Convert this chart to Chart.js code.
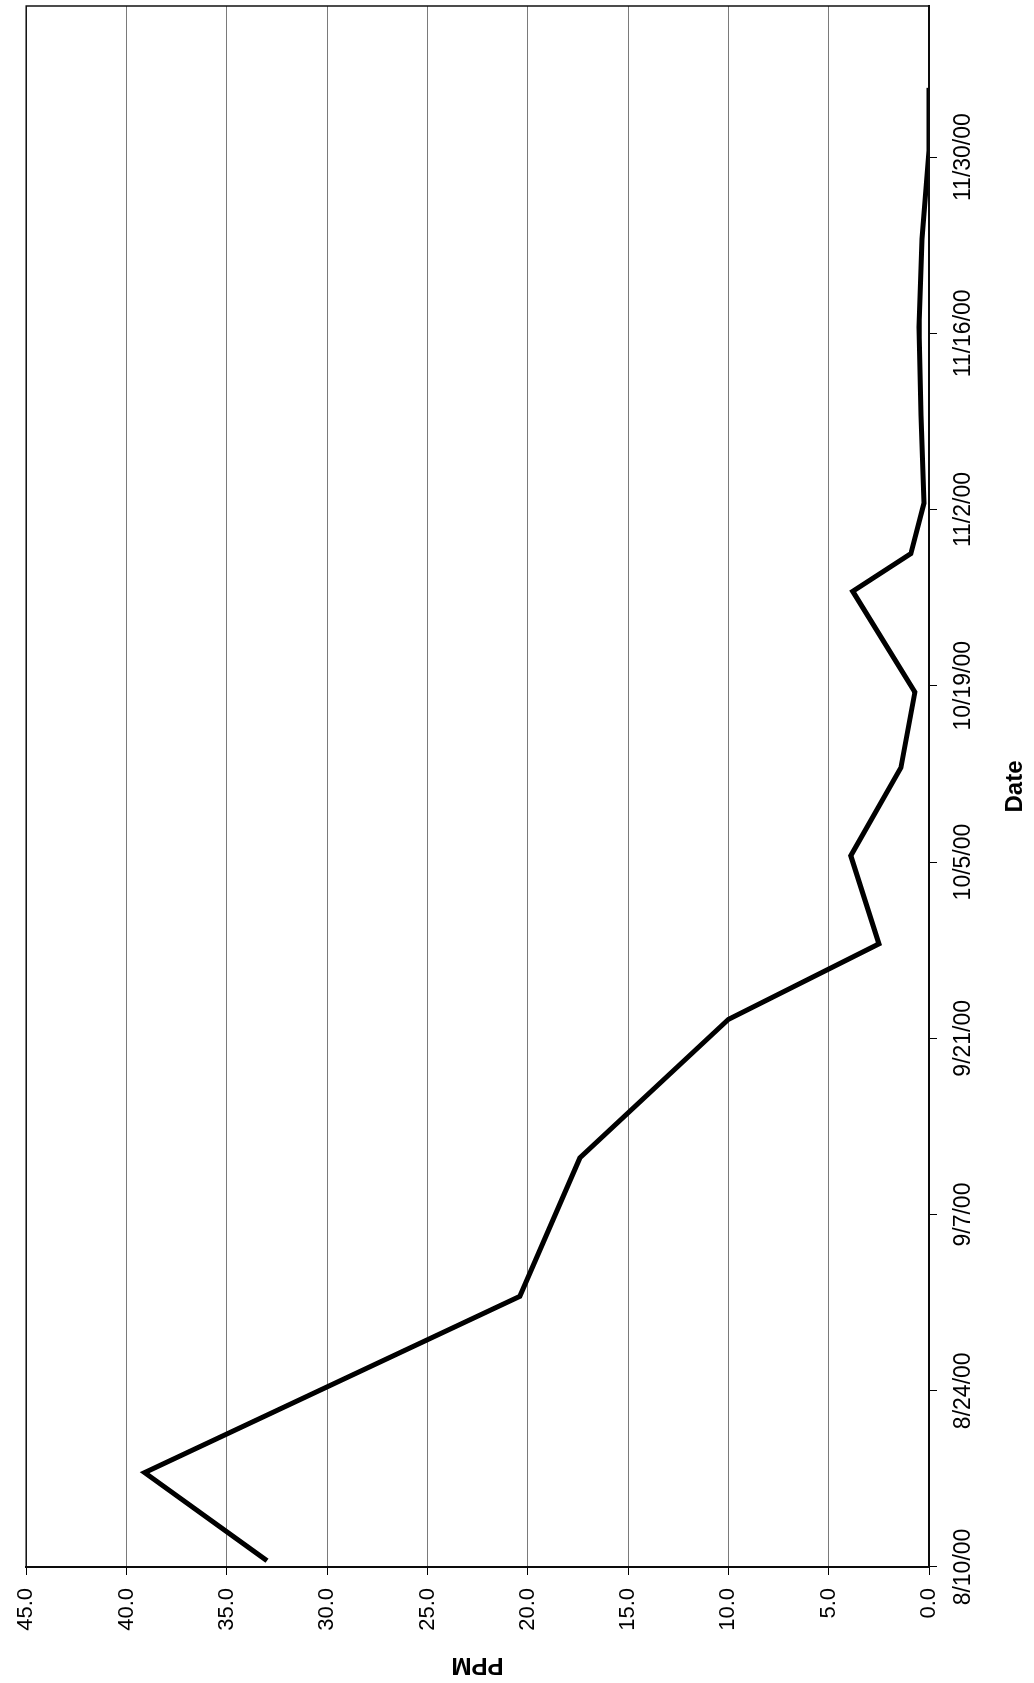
<!DOCTYPE html>
<html>
<head>
<meta charset="utf-8">
<script src="https://cdn.jsdelivr.net/npm/chart.js@4.4.1/dist/chart.umd.min.js"></script>
<style>
    html, body { margin: 0; padding: 0; background: #fff; overflow: hidden; }
    body { width: 1034px; height: 1683px; position: relative; }
    /* the sheet is printed sideways: draw it landscape, then turn it a quarter left */
    #ppmChart {
        position: absolute;
        left: 0;
        top: 0;
        transform-origin: 0 0;
        transform: translateY(1683px) rotate(-90deg);
    }
</style>
</head>
<body>
<canvas id="ppmChart" width="1683" height="1034"></canvas>
<script>
// sampling dates and measured concentration
const sampleDates = ['8/10/00', '8/17/00', '8/31/00', '9/11/00', '9/22/00', '9/28/00', '10/5/00',
    '10/12/00', '10/18/00', '10/26/00', '10/29/00', '11/2/00', '11/9/00', '11/16/00',
    '11/23/00', '11/30/00', '12/5/00'];
const ppmValues = [33.0, 39.1, 20.4, 17.4, 10.0, 2.5, 3.9,
    1.4, 0.7, 3.8, 0.9, 0.25, 0.4, 0.5,
    0.35, 0.0, 0.0];

// date axis runs from 8/10/00 to 12/11/00, ticks every two weeks
const axisStart = '8/10/00';
const axisEnd = '12/11/00';
const tickDays = 14;

// y axis: 0.0 .. 45.0 step 5
const ppmMin = 0;
const ppmMax = 45;
const ppmStep = 5;

const DAY = 24 * 3600 * 1000;
const parseDate = s => {
    const [m, d, y] = s.split('/').map(Number);
    return Date.UTC(2000 + y, m - 1, d);
};
const t0 = parseDate(axisStart);
const dayOf = s => Math.round((parseDate(s) - t0) / DAY);
const labelOf = n => {
    const dt = new Date(t0 + Math.round(n) * DAY);
    const yy = String(dt.getUTCFullYear() % 100).padStart(2, '0');
    return (dt.getUTCMonth() + 1) + '/' + dt.getUTCDate() + '/' + yy;
};

const points = sampleDates.map((s, i) => ({ x: dayOf(s), y: ppmValues[i] }));

// each day is a band; points sit mid-band, ticks on the band's start
const half = 0.5;

const frame = {
    id: 'frame',
    afterDraw(chart) {
        const { ctx, chartArea: a } = chart;
        ctx.save();
        ctx.strokeStyle = '#111';
        ctx.lineWidth = 1.5;
        ctx.strokeRect(a.left, a.top, a.right - a.left, a.bottom - a.top);
        ctx.restore();
    }
};

const ctx = document.getElementById('ppmChart').getContext('2d');

new Chart(ctx, {
    type: 'line',
    data: {
        datasets: [{
            label: 'PPM',
            data: points,
            borderColor: '#000',
            borderWidth: 5,
            borderJoinStyle: 'miter',
            pointRadius: 0,
            tension: 0,
            fill: false
        }]
    },
    options: {
        responsive: false,
        animation: false,
        devicePixelRatio: 1,
        layout: {
            padding: { top: 20, right: 6, left: 0, bottom: 0 }
        },
        plugins: {
            legend: { display: false },
            tooltip: { enabled: false }
        },
        scales: {
            x: {
                type: 'linear',
                min: -half,
                max: dayOf(axisEnd) + half,
                afterBuildTicks: scale => {
                    const ticks = [];
                    for (let d = 0; d <= dayOf(axisEnd); d += tickDays) {
                        ticks.push({ value: d - half });
                    }
                    scale.ticks = ticks;
                },
                afterFit: scale => { scale.height = 105; },
                ticks: {
                    maxRotation: 0,
                    autoSkip: false,
                    padding: 13,
                    color: '#000',
                    font: { family: 'Liberation Sans', size: 23 },
                    callback: v => labelOf(v + half)
                },
                grid: {
                    drawOnChartArea: false,
                    drawTicks: true,
                    tickLength: 8,
                    tickColor: '#000'
                },
                border: { display: true, color: '#000', width: 2 },
                title: {
                    display: true,
                    text: 'Date',
                    color: '#000',
                    padding: 4,
                    font: { family: 'Liberation Sans', size: 24, weight: 'bold' }
                }
            },
            y: {
                min: ppmMin,
                max: ppmMax,
                afterFit: scale => { scale.width = 116; },
                ticks: {
                    stepSize: ppmStep,
                    padding: 13,
                    color: '#000',
                    font: { family: 'Liberation Sans', size: 22 },
                    callback: v => Number(v).toFixed(1)
                },
                grid: {
                    color: '#7a7a7a',
                    lineWidth: 1,
                    tickLength: 8,
                    tickColor: '#000'
                },
                border: { display: true, color: '#000', width: 2 },
                title: {
                    display: true,
                    text: 'PPM',
                    color: '#000',
                    padding: 4,
                    font: { family: 'Liberation Sans', size: 24, weight: 'bold' }
                }
            }
        }
    },
    plugins: [frame]
});
</script>
</body>
</html>
